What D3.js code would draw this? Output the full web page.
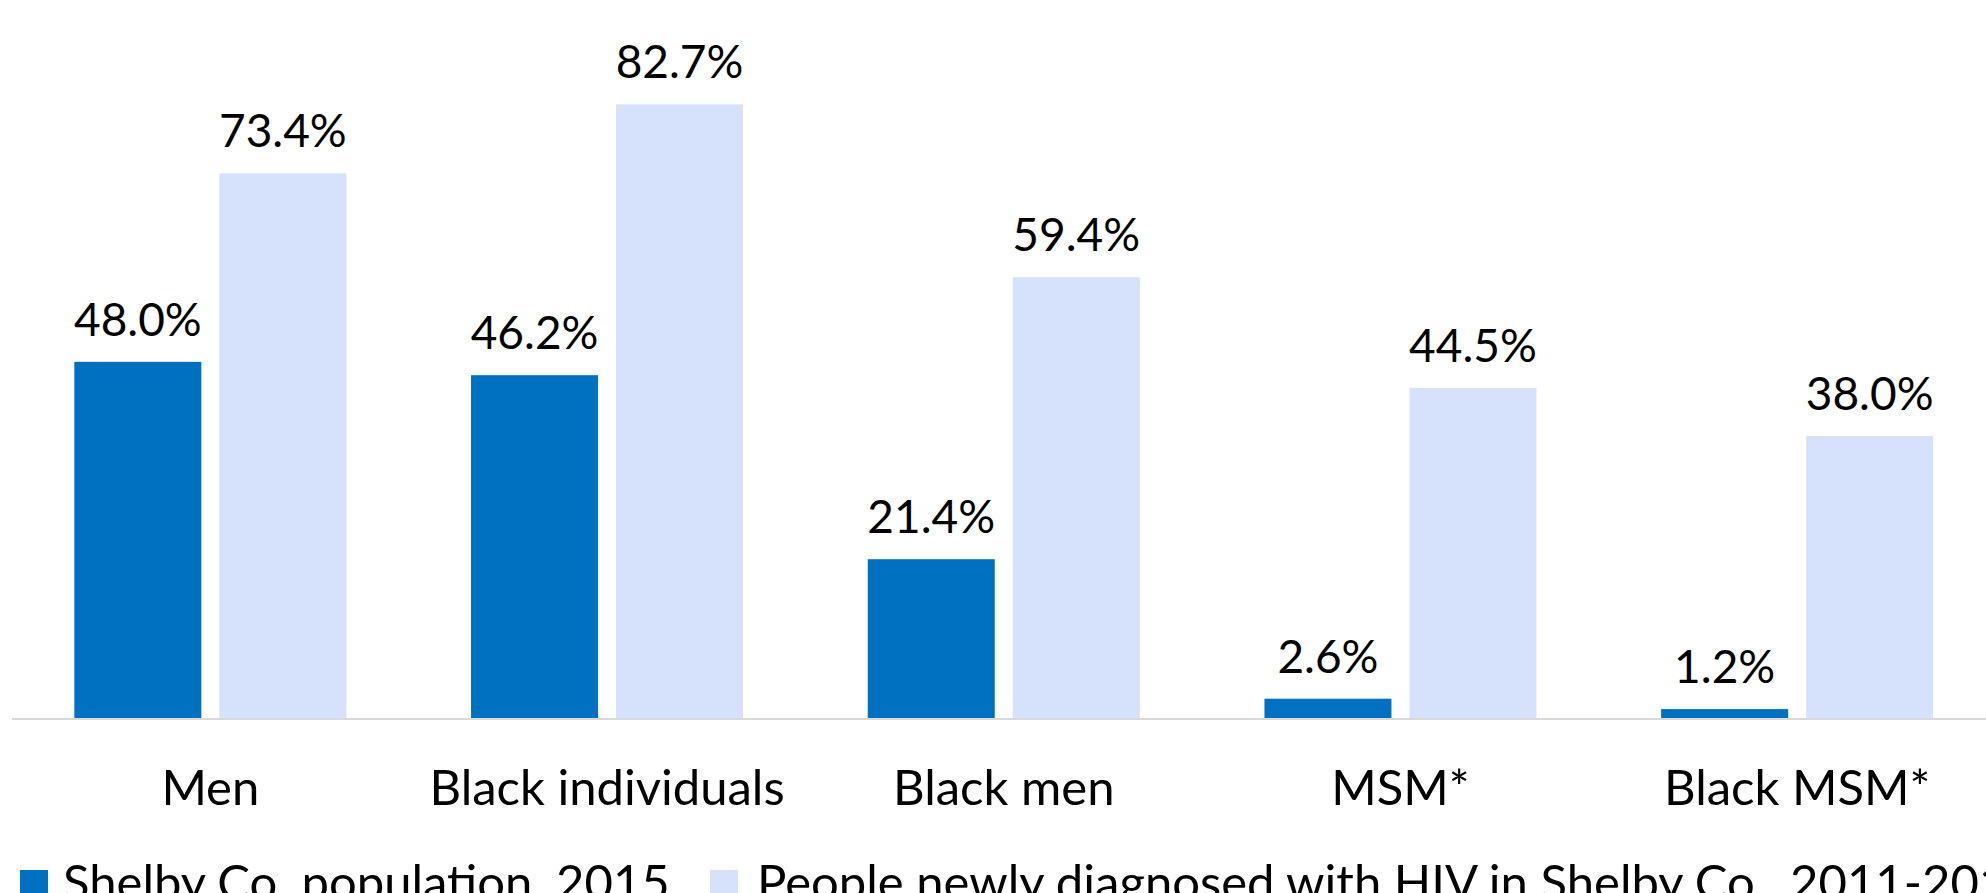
<!DOCTYPE html>
<html>
<head>
<meta charset="utf-8">
<script src="https://cdn.jsdelivr.net/npm/d3@7/dist/d3.min.js"></script>
<style>
  html, body { margin: 0; padding: 0; background: #fff; overflow: hidden; }
  svg { display: block; font-family: Lato, "Open Sans", sans-serif; }
</style>
</head>
<body>
<svg id="chart" width="1986" height="893"></svg>
<script>
const categories = ["Men", "Black individuals", "Black men", "MSM*", "Black MSM*"];
const seriesNames = ["Shelby Co. population, 2015", "People newly diagnosed with HIV in Shelby Co., 2011-2015"];
const populationValues = [48.0, 46.2, 21.4, 2.6, 1.2];
const diagnosedValues = [73.4, 82.7, 59.4, 44.5, 38.0];
const colors = ["#0070C0", "#D6E1FC"];

const svg = d3.select("#chart");
const W = 1986, H = 893;
const baseY = 718;

const x0 = d3.scaleBand().domain(categories).range([12, 1995.5]).paddingInner(0).paddingOuter(0);
const x1 = d3.scaleBand().domain(seriesNames).range([0, x0.bandwidth()]).paddingInner(0.124).paddingOuter(0.43);
const y = d3.scaleLinear().domain([0, 90]).range([baseY, baseY - 7.42 * 90]);

const rows = categories.map((c, i) => ({
  cat: c,
  vals: [
    { s: seriesNames[0], v: populationValues[i], k: 0 },
    { s: seriesNames[1], v: diagnosedValues[i], k: 1 }
  ]
}));

const g = svg.selectAll("g.grp").data(rows).join("g")
  .attr("class", "grp")
  .attr("transform", d => `translate(${x0(d.cat)},0)`);

g.selectAll("rect").data(d => d.vals).join("rect")
  .attr("x", d => x1(d.s))
  .attr("width", x1.bandwidth())
  .attr("y", d => y(d.v))
  .attr("height", d => y(0) - y(d.v))
  .attr("fill", d => colors[d.k]);

g.selectAll("text.val").data(d => d.vals).join("text")
  .attr("class", "val")
  .attr("x", d => x1(d.s) + x1.bandwidth() / 2)
  .attr("y", d => y(d.v) - 26)
  .attr("text-anchor", "middle")
  .attr("font-size", 46)
  .attr("fill", "#000")
  .text(d => d.v.toFixed(1) + "%");

// baseline axis
svg.append("line")
  .attr("x1", 12).attr("x2", W)
  .attr("y1", baseY + 1).attr("y2", baseY + 1)
  .attr("stroke", "#D9D9D9").attr("stroke-width", 2);

// category labels via axis
const xAxis = d3.axisBottom(x0).tickSize(0).tickPadding(0);
const ax = svg.append("g").attr("transform", `translate(0,${baseY})`).call(xAxis);
ax.select(".domain").remove();
ax.selectAll("text")
  .attr("font-family", "Lato, 'Open Sans', sans-serif")
  .attr("font-size", 49)
  .attr("fill", "#000")
  .attr("dy", null)
  .attr("y", 87);

// legend
const legendX = [20, 710];
const leg = svg.selectAll("g.leg").data(seriesNames).join("g")
  .attr("class", "leg")
  .attr("transform", (d, i) => `translate(${legendX[i]},0)`);
leg.append("rect").attr("x", 0).attr("y", 870).attr("width", 28).attr("height", 28)
  .attr("fill", (d, i) => colors[i]);
leg.append("text").attr("x", (d, i) => i === 0 ? 43 : 47).attr("y", 900)
  .attr("font-size", 49).attr("fill", "#000")
  .text(d => d);
</script>
</body>
</html>
